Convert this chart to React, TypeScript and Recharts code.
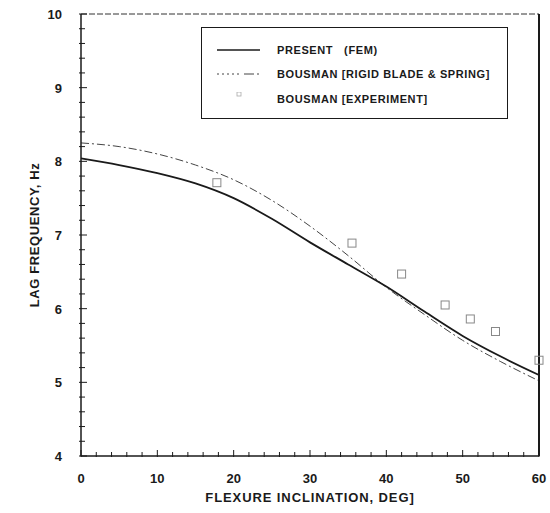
import React from 'react';
import { ComposedChart, Line, Scatter, XAxis, YAxis } from 'recharts';

// PRESENT (FEM)
const femDeg = [0, 5, 10, 15, 20, 25, 30, 35, 40, 45, 50, 55, 60];
const femFreq = [8.04, 7.95, 7.84, 7.7, 7.5, 7.22, 6.9, 6.6, 6.3, 5.96, 5.63, 5.35, 5.1];

// BOUSMAN (RIGID BLADE & SPRING)
const rigidDeg = [0, 5, 10, 15, 20, 25, 30, 35, 40, 45, 50, 55, 60];
const rigidFreq = [8.25, 8.2, 8.1, 7.95, 7.75, 7.47, 7.12, 6.72, 6.29, 5.92, 5.57, 5.28, 5.02];

// BOUSMAN (EXPERIMENT)
const expDeg = [17.8, 35.5, 42, 47.7, 51, 54.3, 60];
const expFreq = [7.71, 6.89, 6.47, 6.05, 5.86, 5.69, 5.3];

const xTicks = [0, 2, 4, 6, 8, 10, 12, 14, 16, 18, 20, 22, 24, 26, 28, 30, 32, 34, 36, 38, 40, 42, 44, 46, 48, 50, 52, 54, 56, 58, 60];
const yTicks = [4, 4.2, 4.4, 4.6, 4.8, 5, 5.2, 5.4, 5.6, 5.8, 6, 6.2, 6.4, 6.6, 6.8, 7, 7.2, 7.4, 7.6, 7.8, 8, 8.2, 8.4, 8.6, 8.8, 9, 9.2, 9.4, 9.6, 9.8, 10];

const femData = femDeg.map((x, i) => ({ x, y: femFreq[i] }));
const rigidData = rigidDeg.map((x, i) => ({ x, y: rigidFreq[i] }));
const expData = expDeg.map((x, i) => ({ x, y: expFreq[i] }));

const FONT = 'Liberation Sans, Arial, sans-serif';
const INK = '#1a1a1a';

const isMajor = (v: number) => Math.abs(v - Math.round(v)) < 1e-6;

// y ticks point inward, labels only on whole numbers
const YTick = ({ x, y, payload }: any) => {
  const v = payload.value;
  const major = isMajor(v);
  return (
    <g>
      <line x1={x - 2} x2={x + (major ? 6 : 4)} y1={y} y2={y} stroke={INK} strokeWidth={1} />
      {major && (
        <text x={x - 19} y={y} dy={5} textAnchor="end" fontSize={13} fontWeight="bold" fontFamily={FONT} fill={INK}>
          {v}
        </text>
      )}
    </g>
  );
};

const XTick = ({ x, y, payload }: any) => {
  const v = payload.value;
  const major = v % 10 === 0;
  return (
    <g>
      <line x1={x} x2={x} y1={y + 1} y2={y - (major ? 6 : 4)} stroke={INK} strokeWidth={1} />
      {major && (
        <text x={x} y={y + 27} textAnchor="middle" fontSize={13} fontWeight="bold" fontFamily={FONT} fill={INK}>
          {v}
        </text>
      )}
    </g>
  );
};

const RightTick = ({ x, y, payload }: any) => {
  const major = isMajor(payload.value);
  return <line x1={x} x2={x - (major ? 5 : 3)} y1={y} y2={y} stroke={INK} strokeWidth={1} />;
};

const Square = ({ cx, cy }: any) => (
  <rect x={cx - 4} y={cy - 4} width={8} height={8} fill="none" stroke="#888" strokeWidth={1} />
);

const legendRows = [
  { label: 'PRESENT   (FEM)', kind: 'solid' },
  { label: 'BOUSMAN [RIGID BLADE & SPRING]', kind: 'dash' },
  { label: 'BOUSMAN [EXPERIMENT]', kind: 'square' },
];

const Legend = () => (
  <div
    style={{
      position: 'absolute',
      left: 201,
      top: 27,
      width: 305,
      height: 90,
      border: `1px solid ${INK}`,
      background: '#fff',
      fontFamily: FONT,
      fontSize: 11,
      letterSpacing: 0.6,
      fontWeight: 'bold',
      color: INK,
    }}
  >
    {legendRows.map((row, i) => (
      <div key={row.label} style={{ position: 'absolute', left: 0, top: [15, 39, 64][i], height: 14, width: '100%' }}>
        <svg width={50} height={14} style={{ position: 'absolute', left: 15, top: 0 }}>
          {row.kind === 'solid' && <line x1={0} x2={43} y1={7} y2={7} stroke={INK} strokeWidth={1.6} />}
          {row.kind === 'dash' && (
            <line x1={0} x2={43} y1={7} y2={7} stroke="#444" strokeWidth={1} strokeDasharray="2 3 2 3 2 3 2 3 2 5 10 3" />
          )}
          {row.kind === 'square' && <rect x={20} y={0} width={4} height={4} fill="none" stroke="#aaa" strokeWidth={0.8} />}
        </svg>
        <span style={{ position: 'absolute', left: 75, top: 0, lineHeight: '14px', whiteSpace: 'pre' }}>{row.label}</span>
      </div>
    ))}
  </div>
);

export default function App() {
  return (
    <div style={{ position: 'absolute', left: 0, top: 0, width: 550, height: 513, background: '#fff' }}>
      <ComposedChart width={550} height={513} margin={{ top: 13, right: 10, bottom: 27, left: 41 }}>
        <XAxis
          type="number"
          dataKey="x"
          domain={[0, 60]}
          ticks={xTicks}
          interval={0}
          height={30}
          tickSize={0}
          tickMargin={0}
          tick={<XTick />}
          axisLine={{ stroke: INK, strokeWidth: 1.5 }}
          label={{ value: 'FLEXURE INCLINATION,  DEG]', position: 'insideBottom', offset: -16, fontSize: 13, fontWeight: 'bold', fontFamily: FONT, fill: INK, letterSpacing: 0.9, style: { whiteSpace: 'pre' } }}
        />
        <XAxis
          xAxisId="top"
          orientation="top"
          type="number"
          dataKey="x"
          domain={[0, 60]}
          height={1}
          tick={false}
          tickLine={false}
          axisLine={{ stroke: '#333', strokeWidth: 1, strokeDasharray: '6 2' }}
        />
        <YAxis
          type="number"
          domain={[4, 10]}
          ticks={yTicks}
          interval={0}
          width={40}
          tickSize={0}
          tickMargin={0}
          tick={<YTick />}
          axisLine={{ stroke: INK, strokeWidth: 1.5 }}
          label={{ value: 'LAG FREQUENCY, Hz', angle: -90, position: 'insideLeft', offset: -7, fontSize: 13, fontWeight: 'bold', fontFamily: FONT, fill: INK, letterSpacing: 0.6, style: { textAnchor: 'middle' } }}
        />
        <YAxis
          yAxisId="right"
          orientation="right"
          type="number"
          domain={[4, 10]}
          ticks={yTicks}
          interval={0}
          width={1}
          tickSize={0}
          tickMargin={0}
          tick={<RightTick />}
          axisLine={{ stroke: INK, strokeWidth: 2 }}
        />
        <Line
          data={rigidData}
          dataKey="y"
          type="monotone"
          stroke="#444"
          strokeWidth={1}
          strokeDasharray="8 3 2 3"
          dot={false}
          isAnimationActive={false}
        />
        <Line
          data={femData}
          dataKey="y"
          type="monotone"
          stroke={INK}
          strokeWidth={1.8}
          dot={false}
          isAnimationActive={false}
        />
        <Scatter data={expData} dataKey="y" shape={<Square />} isAnimationActive={false} />
      </ComposedChart>
      <Legend />
    </div>
  );
}
